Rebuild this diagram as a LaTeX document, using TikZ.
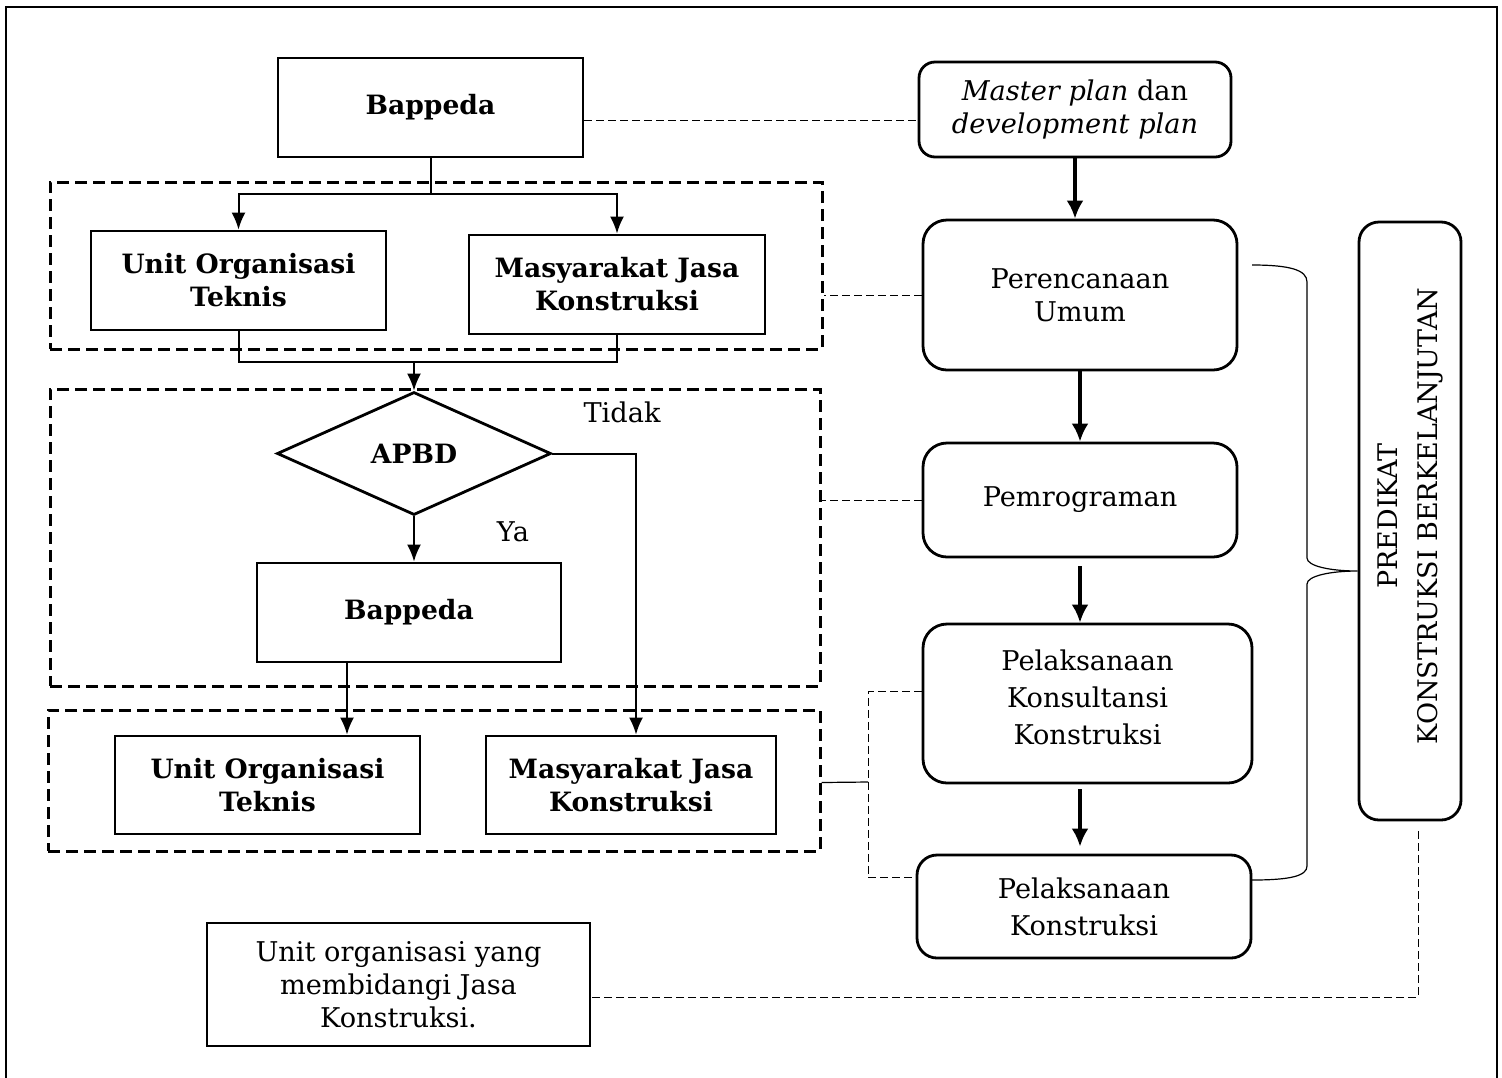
\documentclass[tikz,border=0pt]{standalone}
\usepackage{fontspec}
\setmainfont{DejaVu Serif}
\usetikzlibrary{shapes.geometric, arrows.meta}
\tikzstyle{BoxNode}=[rectangle, draw=black, line width=1.4pt, align=center, inner sep=0pt, font=\bfseries\fontsize{13.3}{16.5}\selectfont]
\tikzstyle{NoteNode}=[BoxNode, font=\fontsize{13.6}{16.5}\selectfont]
\tikzstyle{StepNode}=[rectangle, rounded corners=12pt, draw=black, line width=1.4pt, align=center, inner sep=0pt, font=\fontsize{13.6}{16.5}\selectfont]
\tikzstyle{WideStepNode}=[StepNode, font=\fontsize{13.6}{18.5}\selectfont]
\tikzstyle{DecisionNode}=[diamond, draw=black, line width=1.4pt, inner sep=0pt, aspect=2.2, font=\bfseries\fontsize{13.3}{16.5}\selectfont]
\tikzstyle{GroupBox}=[rectangle, draw=black, line width=1.5pt, dash pattern=on 6pt off 3pt, inner sep=0pt]
\tikzstyle{LabelNode}=[inner sep=0pt, font=\fontsize{13.6}{16.5}\selectfont]
\tikzstyle{FlowEdge}=[-{Latex[length=8.5pt,width=7pt]}, line width=1pt]
\tikzstyle{PlainEdge}=[line width=1pt]
\tikzstyle{MainEdge}=[-{Latex[length=9pt,width=8.5pt]}, line width=2pt]
\tikzstyle{LinkEdge}=[line width=0.5pt, dash pattern=on 4pt off 2pt]
\tikzset{>=latex}

\begin{document}
\begin{tikzpicture}[x=0.5pt, y=-0.5pt]
\useasboundingbox (0,0) rectangle (1502,1077);
\draw[line width=1.3pt] (6,7) rectangle (1497,1095);

% dashed groups
\node[GroupBox, minimum width=386pt, minimum height=83.5pt](grp1) at (436,265.5) {};
\node[GroupBox, minimum width=385pt, minimum height=148.5pt](grp2) at (435,537.5) {};
\node[GroupBox, minimum width=386pt, minimum height=70.5pt](grp3) at (434,780.5) {};

% left column
\node[BoxNode, minimum width=152.5pt, minimum height=49.5pt](bap1) at (430.5,107.5) {Bappeda};
\node[BoxNode, minimum width=147.5pt, minimum height=49.5pt](uot1) at (238.5,280.5) {Unit Organisasi\\Teknis};
\node[BoxNode, minimum width=148pt, minimum height=49.5pt](mjk1) at (617,284.5) {Masyarakat Jasa\\Konstruksi};
\node[DecisionNode, minimum width=137pt, minimum height=61.5pt](apbd) at (414,453.5) {APBD};
\node[BoxNode, minimum width=152pt, minimum height=49.5pt](bap2) at (409,612.5) {Bappeda};
\node[BoxNode, minimum width=152.5pt, minimum height=49pt](uot2) at (267.5,785) {Unit Organisasi\\Teknis};
\node[BoxNode, minimum width=145pt, minimum height=49pt](mjk2) at (631,785) {Masyarakat Jasa\\Konstruksi};
\node[NoteNode, minimum width=191.5pt, minimum height=61.5pt](uo) at (398.5,984.5) {Unit organisasi yang\\membidangi Jasa\\Konstruksi.};
\node[LabelNode](tidak) at (622,412) {Tidak};
\node[LabelNode](ya) at (513,532) {Ya};

% right column
\node[StepNode, rounded corners=8pt, minimum width=156pt, minimum height=47.5pt](mp) at (1075,109.5) {\textit{Master plan} dan\\\textit{development plan}};
\node[StepNode, minimum width=157pt, minimum height=75pt](pu) at (1080,295) {Perencanaan\\Umum};
\node[StepNode, minimum width=157pt, minimum height=57pt](pem) at (1080,500) {Pemrograman};
\node[WideStepNode, minimum width=164.5pt, minimum height=79.5pt](pkk) at (1087.5,703.5) {Pelaksanaan\\Konsultansi\\Konstruksi\\[-12.5pt]};
\node[WideStepNode, rounded corners=10pt, minimum width=167pt, minimum height=51.5pt](pk) at (1084,906.5) {Pelaksanaan\\Konstruksi};
\node[StepNode, rounded corners=10pt, minimum width=51pt, minimum height=299pt](pred) at (1410,521) {};
\node[LabelNode, rotate=90, align=center, font=\fontsize{13.5}{20}\selectfont](predtxt) at (1410,516) {PREDIKAT\\KONSTRUKSI BERKELANJUTAN};

% left flow
\coordinate (split1) at (430.5,194);
\coordinate (join1) at (apbd.north |- 0,362);
\draw[PlainEdge](bap1.south) -- (split1);
\draw[FlowEdge](split1) -| (uot1.north);
\draw[FlowEdge](split1) -| (mjk1.north);
\draw[PlainEdge](uot1.south) |- (join1) -| (mjk1.south);
\draw[FlowEdge](join1) -- (apbd.north);
\draw[FlowEdge](apbd.south) -- (apbd.south |- bap2.north);
\draw[FlowEdge](apbd.east) -| ([xshift=2.5pt]mjk2.north);
\draw[FlowEdge]([xshift=-31pt]bap2.south) -- ([xshift=-31pt]bap2.south |- uot2.north);

% right flow
\draw[MainEdge](mp.south) -- (mp.south |- pu.north);
\draw[MainEdge](pu.south) -- (pem.north);
\draw[MainEdge]([yshift=-4pt]pem.south) -- (pem.south |- pkk.north);
\draw[MainEdge]([yshift=-2.5pt]pkk.south -| pem.south) -- ([yshift=3.5pt]pem.south |- pk.north);

% dashed links
\draw[LinkEdge]([yshift=-6.5pt]bap1.east) -- ([yshift=-6.5pt]bap1.east -| mp.west);
\draw[LinkEdge](pu.west) -- (pu.west -| grp1.east);
\draw[LinkEdge](pem.west) -- (pem.west -| grp2.east);
\coordinate (brk) at (868,782);
\draw[line width=0.6pt]([yshift=-1pt]grp3.east) -- (brk);
\draw[LinkEdge]([yshift=6pt]pkk.west) -| (brk) |- ([yshift=14.5pt]pk.west);
\draw[LinkEdge]([xshift=4pt,yshift=-5pt]pred.south) |- ([yshift=-6.5pt]uo.east);

% brace
\draw[line width=0.6pt](1252,265) .. controls (1290,265) and (1307,270) .. (1307,282) -- (1307,558)
  .. controls (1307,566) and (1330,571) .. (pred.west |- 0,571)
  .. controls (1330,571) and (1307,576) .. (1307,584) -- (1307,866)
  .. controls (1307,876) and (1290,880) .. (1252,880);
\end{tikzpicture}
\end{document}
